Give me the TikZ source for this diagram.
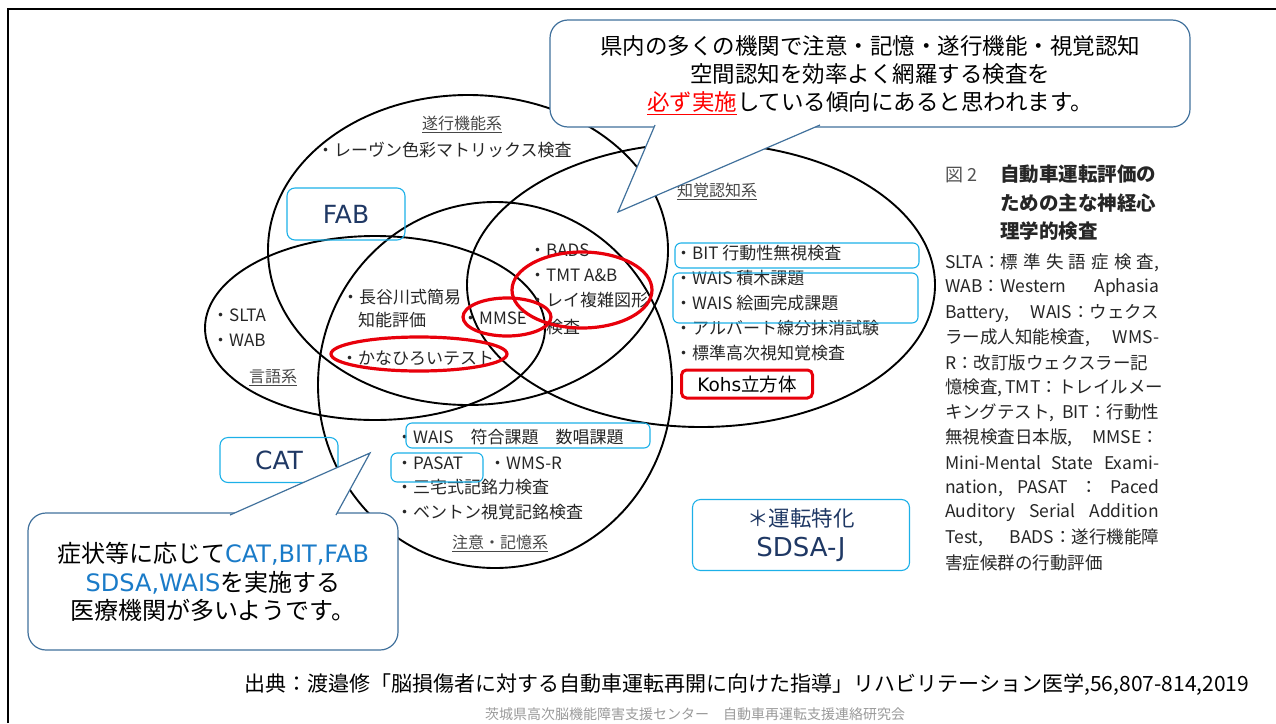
\documentclass[tikz,border=0pt]{standalone}
\usepackage{fontspec}
\setmainfont{Noto Sans CJK JP}
\newfontfamily\widelatin{DejaVu Sans}
\usetikzlibrary{positioning}
\definecolor{calloutblue}{HTML}{41719C}
\definecolor{boxblue}{HTML}{1CB0E8}
\definecolor{navytext}{HTML}{1F3864}
\definecolor{linkblue}{HTML}{1A7BC8}
\definecolor{scanink}{HTML}{262626}
\definecolor{markred}{HTML}{E8000B}
\definecolor{footgray}{HTML}{9A9A9A}
\newcommand{\fsz}[2]{\fontsize{#1}{#2}\selectfont}
\tikzset{
  ring/.style={draw=black, line width=1.9pt},
  redring/.style={draw=markred, line width=3.2pt},
  callout/.style={draw=calloutblue, line width=1.2pt, fill=white, rounded corners=18pt},
  tagbox/.style={draw=boxblue, line width=1.1pt, rounded corners=8pt, text=navytext, align=center},
  hilite/.style={draw=boxblue, line width=1.1pt, rounded corners=6pt, inner sep=0pt},
  item/.style={anchor=west, inner sep=0pt, text=scanink, font=\fsz{17}{20}},
  grouplabel/.style={inner sep=0pt, text=scanink!85, font=\fsz{16}{20}},
  noteline/.style={anchor=west, inner sep=0pt, text=scanink, font=\fsz{17.5}{20}},
}
\begin{document}
\begin{tikzpicture}[x=1pt,y=-1pt]
    \useasboundingbox (0,0) rectangle (1276,723);
    % slide frame
    \draw[line width=2.6pt] (8,723) -- (8,9) -- (1276,9);

    % the four groups of the figure
    \draw[ring] (468,250) ellipse [x radius=200, y radius=155];
    \draw[ring] (375,328) ellipse [x radius=170, y radius=92];
    \draw[ring] (701,285) ellipse [x radius=234, y radius=142];
    \draw[ring] (495,385) ellipse [x radius=177, y radius=183];

    % group labels
    \node[grouplabel] (exlbl) at (462,124) {\underline{遂行機能系}};
    \node[grouplabel] (langlbl) at (273,378) {\underline{言語系}};
    \node[grouplabel] (perclbl) at (717,191) {\underline{知覚認知系}};
    \node[grouplabel] (attlbl) at (500,543) {\underline{注意・記憶系}};

    % tests
    \node[item] (raven) at (317,150) {・レーヴン色彩マトリックス検査};
    \node[item] (slta) at (212,315) {・SLTA};
    \node[item] (wab) at (212,340) {・WAB};
    \node[item] (hds) at (342,297) {・長谷川式簡易};
    \node[item] (hdsb) at (358,320) {知能評価};
    \node[item] (kana) at (341,358) {・かなひろいテスト};
    \node[item] (mmse) at (462,318) {・MMSE};
    \node[item] (bads) at (529,250) {・BADS};
    \node[item] (tmt) at (529,275) {・TMT A\&B};
    \node[item] (rey) at (529,300) {・レイ複雑図形};
    \node[item] (reyb) at (546,327) {検査};
    \node[item] (bit) at (675,253) {・BIT 行動性無視検査};
    \node[item] (block) at (675,278) {・WAIS 積木課題};
    \node[item] (picture) at (675,303) {・WAIS 絵画完成課題};
    \node[item] (albert) at (675,328) {・アルバート線分抹消試験};
    \node[item] (vpta) at (675,353) {・標準高次視知覚検査};
    \node[item] (digit) at (396,437) {・WAIS　符合課題　数唱課題};
    \node[item] (pasat) at (396,463) {・PASAT};
    \node[item] (wms) at (489,463) {・WMS-R};
    \node[item] (miyake) at (396,487) {・三宅式記銘力検査};
    \node[item] (benton) at (396,512) {・ベントン視覚記銘検査};

    % marks on the tests
    \node[hilite, minimum width=244pt, minimum height=25pt] (bitbox) at (797,255.5) {};
    \node[hilite, minimum width=245pt, minimum height=50pt] (waisbox) at (795.5,298) {};
    \node[hilite, minimum width=244pt, minimum height=25pt] (digitbox) at (528,435.5) {};
    \node[hilite, minimum width=92pt, minimum height=29pt] (pasatbox) at (437,467.5) {};
    \draw[redring] (419,354) ellipse [x radius=88, y radius=17];
    \draw[redring] (507,317) ellipse [x radius=44, y radius=19];
    \draw[redring] (582,290) ellipse [x radius=70, y radius=38];
    \node[draw=markred, line width=3pt, rounded corners=5pt, minimum width=131pt, minimum height=28pt, font=\fsz{18.5}{22}] (kohs) at (747,384) {{\widelatin Kohs}立方体};

    % added tests
    \node[tagbox, minimum width=118pt, minimum height=52pt, font=\widelatin\fsz{25}{30}] (fab) at (346,214) {FAB};
    \node[tagbox, minimum width=118pt, minimum height=45pt, font=\widelatin\fsz{25}{30}] (cat) at (279,460) {CAT};
    \node[tagbox, minimum width=217pt, minimum height=71pt, font=\fsz{21.5}{30}] (sdsa) at (801,535) {＊運転特化\\{\widelatin\fsz{26}{30}SDSA-J}};

    % caption of the figure
    \node[anchor=west, inner sep=0pt, text=scanink!80, font=\fsz{18}{20}] (fignum) at (945,175) {図 2};
    \node[anchor=west, inner sep=0pt, text=scanink, align=left, font=\fsz{19.5}{28.5}\bfseries] (figtitle) at (1000,203) {自動車運転評価の\\ための主な神経心\\理学的検査};
    \node[noteline] (note1) at (945,263) {\makebox[214pt][s]{SLTA：標 準 失 語 症 検 査,}};
    \node[noteline] (note2) at (945,288) {\makebox[214pt][s]{WAB：Western Aphasia}};
    \node[noteline] (note3) at (945,313) {\makebox[214pt][s]{Battery, WAIS：ウェクス}};
    \node[noteline] (note4) at (945,338) {\makebox[214pt][s]{ラー成人知能検査, WMS-}};
    \node[noteline] (note5) at (945,363) {\makebox[214pt][s]{R：改訂版ウェクスラー記}};
    \node[noteline] (note6) at (945,388) {\makebox[214pt][s]{憶検査, TMT：トレイルメー}};
    \node[noteline] (note7) at (945,413) {\makebox[214pt][s]{キングテスト, BIT：行動性}};
    \node[noteline] (note8) at (945,438) {\makebox[214pt][s]{無視検査日本版, MMSE：}};
    \node[noteline] (note9) at (945,463) {\makebox[214pt][s]{Mini-Mental State Exami-}};
    \node[noteline] (note10) at (945,488) {\makebox[214pt][s]{nation, PASAT ： Paced}};
    \node[noteline] (note11) at (945,513) {\makebox[214pt][s]{Auditory Serial Addition}};
    \node[noteline] (note12) at (945,538) {\makebox[214pt][s]{Test, BADS：遂行機能障}};
    \node[noteline] (note13) at (945,563) {害症候群の行動評価};

    % callouts
    \node[callout, minimum width=640pt, minimum height=107pt] (topcall) at (870,73.5) {};
    \filldraw[draw=calloutblue, fill=white, line width=1.2pt] (655,125) -- (618,212) -- (820,125);
    \node[font=\fsz{22.5}{28}, align=center] (toptext) at (870,75) {県内の多くの機関で注意・記憶・遂行機能・視覚認知\\空間認知を効率よく網羅する検査を\\\textcolor{red}{\underline{必ず実施}}している傾向にあると思われます。};
    \node[callout, minimum width=370pt, minimum height=137pt] (botcall) at (213,581.5) {};
    \filldraw[draw=calloutblue, fill=white, line width=1.2pt] (230,515) -- (370,453) -- (336,515);
    \node[font=\fsz{24}{28.5}, align=center] (bottext) at (213,582) {症状等に応じて\textcolor{linkblue}{\widelatin CAT,BIT,FAB}\\\textcolor{linkblue}{\widelatin SDSA,WAIS}を実施する\\医療機関が多いようです。};

    % source
    \node[font=\fsz{21}{24}] (source) at (747,685) {出典：渡邉修「脳損傷者に対する自動車運転再開に向けた指導」リハビリテーション医学,56,807-814,2019};
    \node[font=\fsz{14}{16}, text=footgray] (org) at (695,714) {茨城県高次脳機能障害支援センター　自動車再運転支援連絡研究会};
\end{tikzpicture}
\end{document}
